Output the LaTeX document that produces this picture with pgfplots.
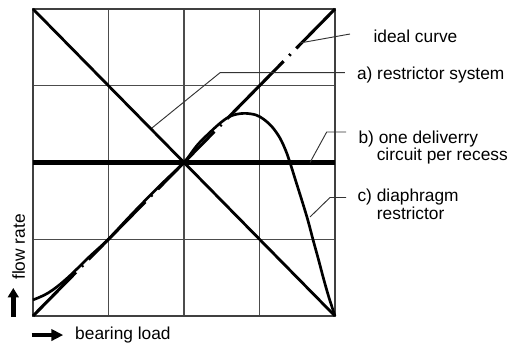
\documentclass[border=0pt]{standalone}
\usepackage{fontspec}
\setmainfont{Liberation Sans}
\usepackage{pgfplots}
\pgfplotsset{compat=1.18}
\usetikzlibrary{arrows.meta}

\begin{document}
\begin{tikzpicture}
\begin{axis}[
    scale only axis,
    width=226.5pt, height=230.25pt,
    xmin=0, xmax=4, ymin=0, ymax=4,
    xtick={0,1,2,3,4}, ytick={0,1,2,3,4},
    xticklabels={}, yticklabels={},
    major tick length=0pt,
    grid=major,
    grid style={line width=0.9pt, black!70},
    axis line style={line width=0.9pt, black!75},
    clip=false,
    font=\fontsize{13}{15}\selectfont,
]
% b) one delivery circuit per recess
\addplot[black, line width=3.3pt] coordinates {(0,2) (4,2)};
% a) restrictor system
\addplot[black, line width=2.1pt] coordinates {(0,4) (4,0)};
% ideal curve
\addplot[black, line width=2.3pt,
    dash pattern=on 60.5pt off 6pt on 1.5pt off 6pt, dash phase=14.5pt]
    coordinates {(0,0) (4,4)};
% c) diaphragm restrictor
\addplot[black, line width=2pt, smooth, tension=0.55] coordinates {
    (0,0.21) (0.1,0.25) (0.2,0.3) (0.33,0.39) (0.5,0.535) (0.75,0.775)
    (1.0,1.0) (1.25,1.265) (1.5,1.52) (1.75,1.765) (2.0,2.0) (2.17,2.22)
    (2.33,2.38) (2.5,2.53) (2.63,2.61) (2.79,2.64) (2.95,2.62) (3.06,2.56)
    (3.17,2.46) (3.27,2.32) (3.35,2.15) (3.41,1.98) (3.48,1.76) (3.56,1.51)
    (3.64,1.25) (3.71,0.99) (3.78,0.74) (3.85,0.48) (3.92,0.24) (4,0)};

% leader lines
\draw[black!80, line width=0.7pt] (axis cs:3.536,3.557) -- (axis cs:4.199,3.674);
\draw[black!80, line width=0.7pt] (axis cs:1.576,2.45) -- (axis cs:2.477,3.17) -- (axis cs:4.132,3.17);
\draw[black!80, line width=0.7pt] (axis cs:3.669,2.0) -- (axis cs:3.89,2.397) -- (axis cs:4.146,2.397);
\draw[black!80, line width=0.7pt] (axis cs:3.669,1.29) -- (axis cs:3.934,1.544) -- (axis cs:4.146,1.544);

% labels
\tikzset{lbl/.style={anchor=base west, inner sep=0pt}}
\node[lbl] at (axis cs:4.507,3.561) {ideal curve};
\node[lbl] at (axis cs:4.288,3.084) {a) restrictor system};
\node[lbl] at (axis cs:4.309,2.250) {b) one deliverry};
\node[lbl] at (axis cs:4.550,2.026) {circuit per recess};
\node[lbl] at (axis cs:4.295,1.498) {c) diaphragm};
\node[lbl] at (axis cs:4.552,1.260) {restrictor};

% axis arrows and titles
\draw[line width=3.6pt, -{Triangle[length=9pt, width=8.5pt]}] (axis cs:-0.017,-0.248) -- (axis cs:0.401,-0.248);
\node[lbl] at (axis cs:0.556,-0.304) {bearing load};
\draw[line width=3.6pt, -{Triangle[length=7pt, width=8pt]}] (axis cs:-0.261,-0.009) -- (axis cs:-0.261,0.365);
\node[lbl, rotate=90] at (axis cs:-0.106,0.469) {flow rate};

\coordinate (bl) at (axis cs:-0.437,-0.404);
\coordinate (tr) at (axis cs:6.331,4.117);
\end{axis}
\pgfresetboundingbox
\path[use as bounding box] (bl) rectangle (tr);
\end{tikzpicture}
\end{document}
